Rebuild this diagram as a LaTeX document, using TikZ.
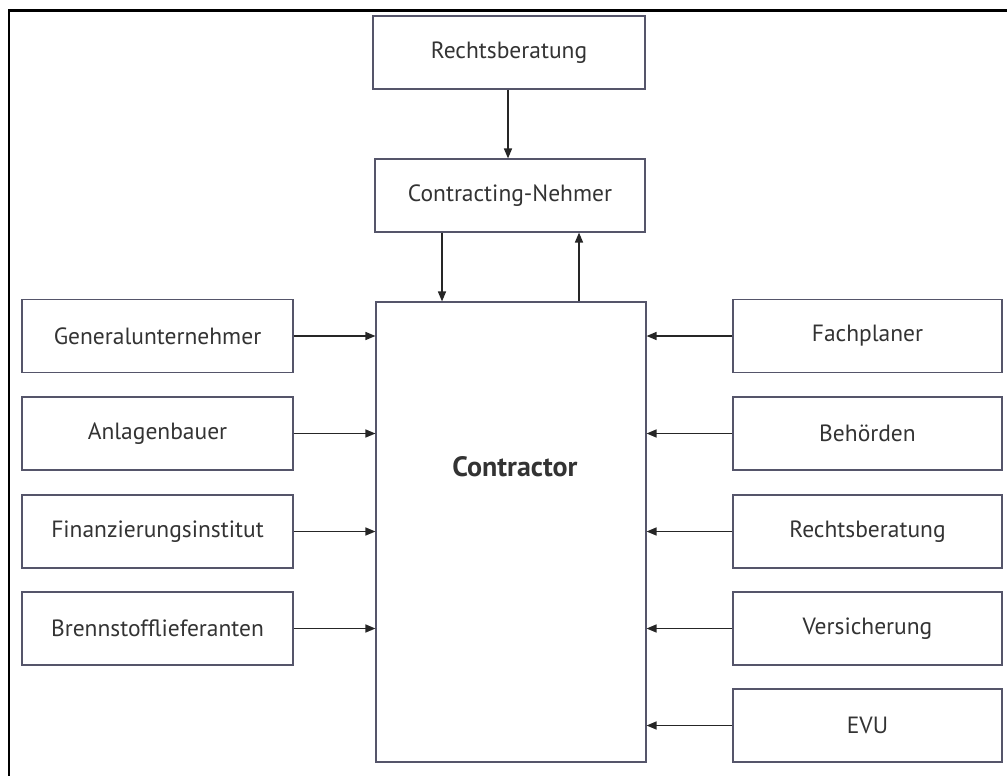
\documentclass[tikz,border=0pt]{standalone}
\usepackage{fontspec}
\setmainfont{PT Sans}
\usetikzlibrary{arrows.meta}
\definecolor{boxline}{HTML}{55556A}
\definecolor{txt}{HTML}{333333}
\tikzset{
  box/.style={draw=boxline, line width=1.1pt, minimum height=73pt, inner sep=0pt, text=txt, font=\fontsize{23.5}{28}\selectfont},
  lbox/.style={box, minimum width=271pt},
  rbox/.style={box, minimum width=269pt},
  arr/.style={draw=black!85, line width=1.5pt, -{Triangle[length=10pt,width=8pt]}},
}
\begin{document}
\begin{tikzpicture}[x=1pt,y=-1pt]
\useasboundingbox (0,0) rectangle (1007,776);
\draw[line width=2.6pt] (1007,10.3) -- (9,10.3) -- (9,776);
% top chain
\node[box, minimum width=272pt] (rbt) at (509,52.5) {Rechtsberatung};
\node[box, minimum width=270pt] (cn) at (510,195.5) {Contracting-Nehmer};
\node[box, minimum width=270pt, minimum height=460pt] (ct) at (511,532) {};
\node[text=txt, font=\fontsize{28}{32}\selectfont\bfseries] (ctxt) at (515,467) {Contractor};
% left boxes
\node[lbox] (gu) at (157.5,336) {Generalunternehmer};
\node[lbox] (ab) at (157.5,433.5) {Anlagenbauer};
\node[lbox] (fi) at (157.5,531.5) {Finanzierungsinstitut};
\node[lbox] (bl) at (157.5,628.5) {Brennstofflieferanten};
% right boxes
\node[rbox] (fp) at (867.5,336) {Fachplaner};
\node[rbox] (bh) at (867.5,433.5) {Behörden};
\node[rbox] (rbr) at (867.5,531.5) {Rechtsberatung};
\node[rbox] (vs) at (867.5,628.5) {Versicherung};
\node[rbox] (evu) at (867.5,725.5) {EVU};
% arrows
\draw[arr] (rbt.south -| 508,0) -- (cn.north -| 508,0);
\draw[arr] (cn.south -| 442,0) -- (ct.north -| 442,0);
\draw[arr] (ct.north -| 579,0) -- (cn.south -| 579,0);
\foreach \n in {gu,ab,fi,bl} \draw[arr] (\n.east) -- (\n.east -| ct.west);
\foreach \n in {fp,bh,rbr,vs,evu} \draw[arr] (\n.west) -- (\n.west -| ct.east);
\end{tikzpicture}
\end{document}
